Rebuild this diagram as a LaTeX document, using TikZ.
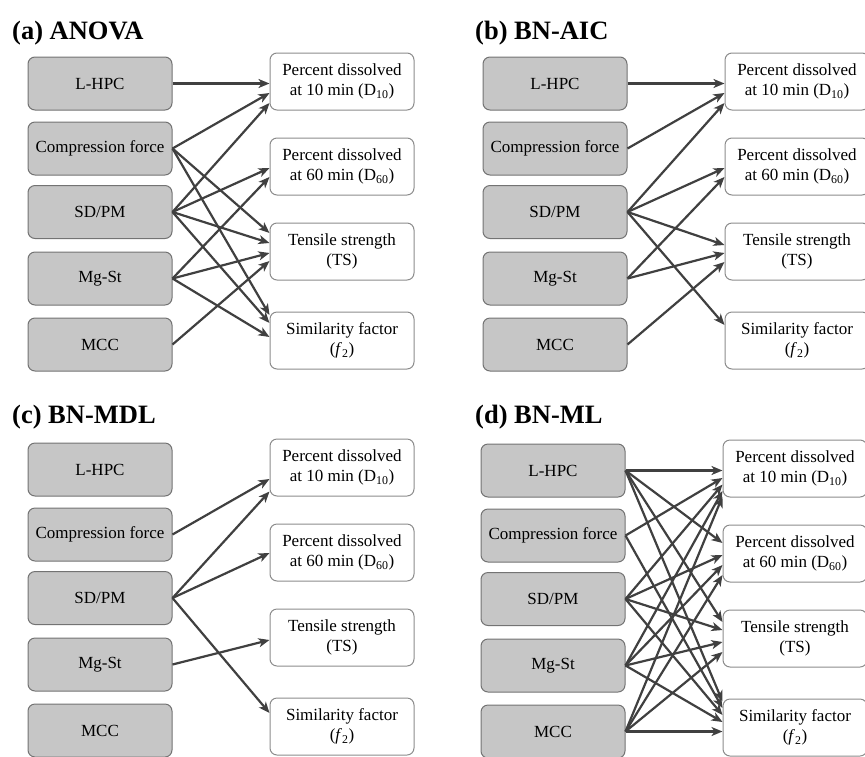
\documentclass[tikz,border=0pt]{standalone}
\usepackage{fontspec}
\setmainfont{Liberation Serif}
\usetikzlibrary{calc,arrows.meta}
\definecolor{boxgray}{RGB}{198,198,198}
\definecolor{boxedge}{RGB}{115,115,115}
\definecolor{redge}{RGB}{140,140,140}
\definecolor{arrcol}{RGB}{64,64,64}
\tikzset{
  lbox/.style={draw=boxedge, fill=boxgray, line width=1pt, rounded corners=7pt,
    minimum width=144pt, minimum height=53pt, inner sep=0pt, align=center,
    font=\fontsize{17}{20}\selectfont},
  rbox/.style={draw=redge, fill=white, line width=1pt, rounded corners=7pt,
    minimum width=144pt, minimum height=57pt, inner sep=0pt, align=center,
    font=\fontsize{17}{20}\selectfont},
  ttl/.style={anchor=base west, inner sep=0pt, font=\fontsize{26.5}{30}\selectfont\bfseries},
  arr/.style={draw=arrcol, line width=2.2pt, -{Stealth[length=11pt,width=9pt,inset=3pt]}}
}
\newcommand\MakePanel[3]{%
  \begin{scope}[shift={(#2,#3)}]
    \node[lbox] (#1L1) at (100,83.5)  {L-HPC};
    \node[lbox] (#1L2) at (100,148.5) {Compression force};
    \node[lbox] (#1L3) at (100,212)   {SD/PM};
    \node[lbox] (#1L4) at (100,278.5) {Mg-St};
    \node[lbox] (#1L5) at (100,344.5) {MCC};
    \node[rbox] (#1R1) at (342,81.5)  {Percent dissolved\\at 10 min (D\textsubscript{10})};
    \node[rbox] (#1R2) at (342,166.5) {Percent dissolved\\at 60 min (D\textsubscript{60})};
    \node[rbox] (#1R3) at (342,251.5) {Tensile strength\\(TS)};
    \node[rbox] (#1R4) at (342,340.5) {Similarity factor\\(\textit{f}\textsubscript{2})};
  \end{scope}}
\newcommand\EdgeTo[3]{\draw[arr] (#1.east) -- ($(#2.west)+(0,#3)$);}
\newcommand\EdgeH[2]{\draw[arr] (#1.east) -- (#1.east -| #2.west);}
\begin{document}
\begin{tikzpicture}[x=1pt,y=-1pt]
  \useasboundingbox (0,0) rectangle (865,756);
  % titles
  \node[ttl] (ta) at (12,39)  {(a) ANOVA};
  \node[ttl] (tb) at (475,39) {(b) BN-AIC};
  \node[ttl] (tc) at (12,423) {(c) BN-MDL};
  \node[ttl] (td) at (475,423) {(d) BN-ML};
  % panels
  \MakePanel{a}{0}{0}
  \MakePanel{b}{455}{0}
  \MakePanel{c}{0}{386}
  \MakePanel{d}{453}{387}
  % (a) ANOVA
  \EdgeH{aL1}{aR1}
  \EdgeTo{aL2}{aR1}{11.5}
  \EdgeTo{aL3}{aR1}{21.5}
  \EdgeTo{aL3}{aR2}{1.5}
  \EdgeTo{aL4}{aR2}{10.5}
  \EdgeTo{aL2}{aR3}{-18.5}
  \EdgeTo{aL3}{aR3}{-8.5}
  \EdgeTo{aL4}{aR3}{1.5}
  \EdgeTo{aL5}{aR3}{9.5}
  \EdgeTo{aL2}{aR4}{-25.5}
  \EdgeTo{aL3}{aR4}{-17.5}
  \EdgeTo{aL4}{aR4}{-3.5}
  % (b) BN-AIC
  \EdgeH{bL1}{bR1}
  \EdgeTo{bL2}{bR1}{11.5}
  \EdgeTo{bL3}{bR1}{21.5}
  \EdgeTo{bL3}{bR2}{1.5}
  \EdgeTo{bL4}{bR2}{10.5}
  \EdgeTo{bL3}{bR3}{-6.5}
  \EdgeTo{bL4}{bR3}{1.5}
  \EdgeTo{bL5}{bR3}{10.5}
  \EdgeTo{bL3}{bR4}{-15.5}
  % (c) BN-MDL
  \EdgeTo{cL2}{cR1}{11.5}
  \EdgeTo{cL3}{cR1}{24}
  \EdgeTo{cL3}{cR2}{0.5}
  \EdgeTo{cL4}{cR3}{2.5}
  \EdgeTo{cL3}{cR4}{-13.5}
  % (d) BN-ML
  \EdgeH{dL1}{dR1}
  \EdgeTo{dL2}{dR1}{9.5}
  \EdgeTo{dL3}{dR1}{16}
  \EdgeTo{dL4}{dR1}{22.5}
  \EdgeTo{dL5}{dR1}{28}
  \EdgeTo{dL1}{dR2}{-10.5}
  \EdgeTo{dL3}{dR2}{1.5}
  \EdgeTo{dL4}{dR2}{11.5}
  \EdgeTo{dL5}{dR2}{21.5}
  \EdgeTo{dL1}{dR3}{-16.5}
  \EdgeTo{dL3}{dR3}{-8.5}
  \EdgeTo{dL4}{dR3}{3.5}
  \EdgeTo{dL5}{dR3}{13.5}
  \EdgeTo{dL1}{dR4}{-26}
  \EdgeTo{dL2}{dR4}{-19.5}
  \EdgeTo{dL3}{dR4}{-12.5}
  \EdgeTo{dL4}{dR4}{-5.5}
  \EdgeH{dL5}{dR4}
\end{tikzpicture}
\end{document}
